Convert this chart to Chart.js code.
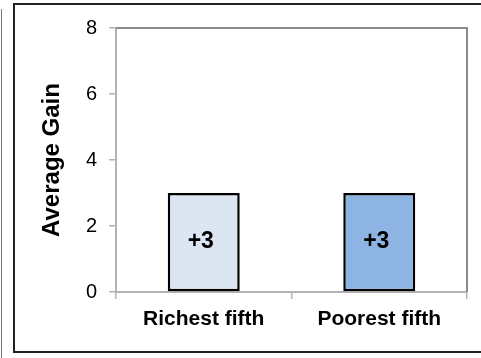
<!DOCTYPE html>
<html>
<head>
<meta charset="utf-8">
<script src="https://cdn.jsdelivr.net/npm/chart.js@4/dist/chart.umd.min.js"></script>
<style>
  html, body { margin: 0; padding: 0; background: #fff; }
  #wrap { position: relative; width: 481px; height: 358px; overflow: hidden; }
  #frame { position: absolute; left: 13px; top: 3px; width: 475px; height: 350px; border: 2px solid #222; box-sizing: border-box; }
  #side { position: absolute; left: 1px; top: 9px; width: 1px; height: 349px; background: #777; }
  canvas { position: absolute; left: 0; top: 0; }
</style>
</head>
<body>
<div id="wrap">
  <div id="side"></div>
  <div id="frame"></div>
  <canvas id="c" width="481" height="358"></canvas>
</div>
<script>
const categories = ["Richest fifth", "Poorest fifth"];
const gains = [3, 3];
const gainLabels = ["+3", "+3"];
const barColors = ["#dce6f2", "#8eb4e3"];
const yTicks = [0, 2, 4, 6, 8];
const yTitle = "Average Gain";

const FONT = "'Liberation Sans', Arial, sans-serif";

const frameBox = {
  id: 'frameBox',
  afterDraw(chart) {
    const { ctx, chartArea: a } = chart;
    ctx.save();
    ctx.strokeStyle = '#8c8c8c';
    ctx.lineWidth = 2;
    ctx.beginPath();
    ctx.moveTo(a.left, a.top);
    ctx.lineTo(a.right, a.top);
    ctx.lineTo(a.right, a.bottom);
    ctx.stroke();
    ctx.restore();
  }
};

const barText = {
  id: 'barText',
  afterDatasetsDraw(chart) {
    const { ctx } = chart;
    const meta = chart.getDatasetMeta(0);
    ctx.save();
    ctx.font = "bold 23px " + FONT;
    ctx.fillStyle = '#000';
    ctx.textAlign = 'center';
    ctx.textBaseline = 'middle';
    meta.data.forEach((bar, i) => {
      const y = (bar.y + bar.base) / 2;
      ctx.fillText(gainLabels[i], bar.x - 3, y);
    });
    ctx.restore();
  }
};

new Chart(document.getElementById('c'), {
  type: 'bar',
  data: {
    labels: categories,
    datasets: [{
      data: gains,
      backgroundColor: barColors,
      borderColor: '#000',
      borderWidth: 2.5,
      borderSkipped: false,
      categoryPercentage: 1,
      barPercentage: 0.41
    }]
  },
  options: {
    responsive: false,
    animation: false,
    events: [],
    layout: { padding: { left: 28, right: 14, top: 28, bottom: 0 } },
    plugins: { legend: { display: false }, tooltip: { enabled: false } },
    scales: {
      x: {
        offset: true,
        grid: { offset: true, drawOnChartArea: false, drawTicks: true, tickLength: 7, color: '#b3b3b3', lineWidth: 1.5 },
        border: { color: '#b3b3b3', width: 2 },
        ticks: { color: '#000', font: { family: FONT, size: 21, weight: 'bold' }, padding: 8 },
        afterFit(scale) { scale.height = 66; }
      },
      y: {
        min: 0, max: 8,
        afterBuildTicks(scale) { scale.ticks = yTicks.map(v => ({ value: v })); },
        grid: { drawOnChartArea: false, drawTicks: true, tickLength: 7, color: '#b3b3b3', lineWidth: 1.5 },
        border: { color: '#b3b3b3', width: 2 },
        ticks: { color: '#000', font: { family: FONT, size: 20 }, padding: 12 },
        title: { display: true, text: yTitle, color: '#000', font: { family: FONT, size: 24, weight: 'bold' }, padding: { top: 10, bottom: 0 } },
        afterFit(scale) { scale.width = 88; }
      }
    }
  },
  plugins: [frameBox, barText]
});
</script>
</body>
</html>
